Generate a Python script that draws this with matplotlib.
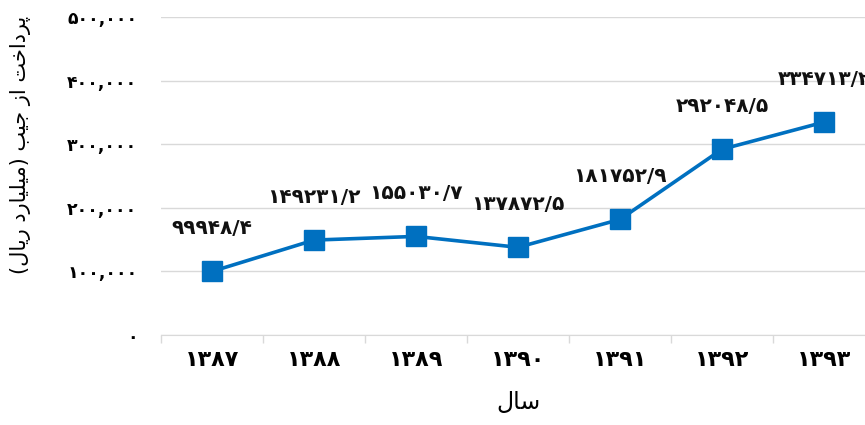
from matplotlib import pyplot as plt
from matplotlib.ticker import FixedLocator, FuncFormatter

# datos
anios = [1387, 1388, 1389, 1390, 1391, 1392, 1393]
pagos = [99948.4, 149231.2, 155030.7, 137872.5, 181752.9, 292048.5, 334713.2]
ticks_y = [0, 100000, 200000, 300000, 400000, 500000]
titulo_y = 'پرداخت از جیب (میلیارد ریال)'
titulo_x = 'سال'

# formas de presentacion (aislada, final, inicial, media)
FORMAS = {
  'ا': ('\uFE8D', '\uFE8E'),
  'د': ('\uFEA9', '\uFEAA'),
  'ر': ('\uFEAD', '\uFEAE'),
  'ز': ('\uFEAF', '\uFEB0'),
  'ب': ('\uFE8F', '\uFE90', '\uFE91', '\uFE92'),
  'پ': ('\uFB56', '\uFB57', '\uFB58', '\uFB59'),
  'ت': ('\uFE95', '\uFE96', '\uFE97', '\uFE98'),
  'ج': ('\uFE9D', '\uFE9E', '\uFE9F', '\uFEA0'),
  'خ': ('\uFEA5', '\uFEA6', '\uFEA7', '\uFEA8'),
  'س': ('\uFEB1', '\uFEB2', '\uFEB3', '\uFEB4'),
  'ل': ('\uFEDD', '\uFEDE', '\uFEDF', '\uFEE0'),
  'م': ('\uFEE1', '\uFEE2', '\uFEE3', '\uFEE4'),
  'ی': ('\uFBFC', '\uFBFD', '\uFBFE', '\uFBFF'),
}

def farsi(s):
  out = []
  for i, c in enumerate(s):
    f = FORMAS.get(c)
    if f is None:
      out.append(c)
      continue
    prev = s[i-1] if i > 0 else ''
    nxt = s[i+1] if i+1 < len(s) else ''
    une_prev = len(FORMAS.get(prev, ())) == 4
    une_next = len(f) == 4 and nxt in FORMAS
    if une_prev and une_next: g = f[3]
    elif une_prev: g = f[1]
    elif une_next: g = f[2]
    else: g = f[0]
    out.append(g)
  espejo = {'(': ')', ')': '('}
  return ''.join(espejo.get(c, c) for c in reversed(out))

DIG = str.maketrans('0123456789', '۰۱۲۳۴۵۶۷۸۹')
def num(v):
  return str(v).translate(DIG)

plt.rcParams['font.family'] = ['DejaVu Sans']
azul = '#0070C0'
gris = '#d9d9d9'

fig = plt.figure(figsize=(8.65, 4.25), dpi=100)
ax = fig.add_axes([161/865, 90/425, 714/865, 318/425])

x = list(range(len(anios)))
ax.plot(x, pagos, color=azul, lw=2.6, marker='s', ms=14, mfc=azul, mec=azul, zorder=3)

for xi, v in zip(x, pagos):
  ax.annotate(num(f'{v:.1f}'.replace('.', '/')), (xi, v), xytext=(0, 31),
              textcoords='offset points', ha='center', va='center',
              fontsize=14.5, fontweight='bold', color='#111111', annotation_clip=False)

ax.set_xlim(-0.5, len(anios)-0.5)
ax.set_ylim(0, 500000)
ax.set_yticks(ticks_y)
ax.yaxis.set_major_formatter(FuncFormatter(lambda v, p: num(f'{int(v):,}')))
ax.set_xticks(x)
ax.set_xticklabels([num(a) for a in anios])
ax.xaxis.set_minor_locator(FixedLocator([i-0.5 for i in range(len(anios)+1)]))
ax.tick_params(axis='x', which='major', length=0, pad=11, labelsize=16)
ax.tick_params(axis='x', which='minor', length=6, color=gris, width=1)
ax.tick_params(axis='y', length=0, pad=17, labelsize=12.5)
for t in ax.get_xticklabels() + ax.get_yticklabels():
  t.set_fontweight('bold')

ax.grid(axis='y', color=gris, lw=1)
ax.set_axisbelow(True)
for s in ['top', 'right', 'left']:
  ax.spines[s].set_visible(False)
ax.spines['bottom'].set_color(gris)

ax.set_xlabel(farsi(titulo_x), fontsize=17, labelpad=14)
fig.text(21/865, 280/425, farsi(titulo_y), rotation=90, ha='center', va='center', fontsize=15)

fig.savefig('out.png', dpi=100)
